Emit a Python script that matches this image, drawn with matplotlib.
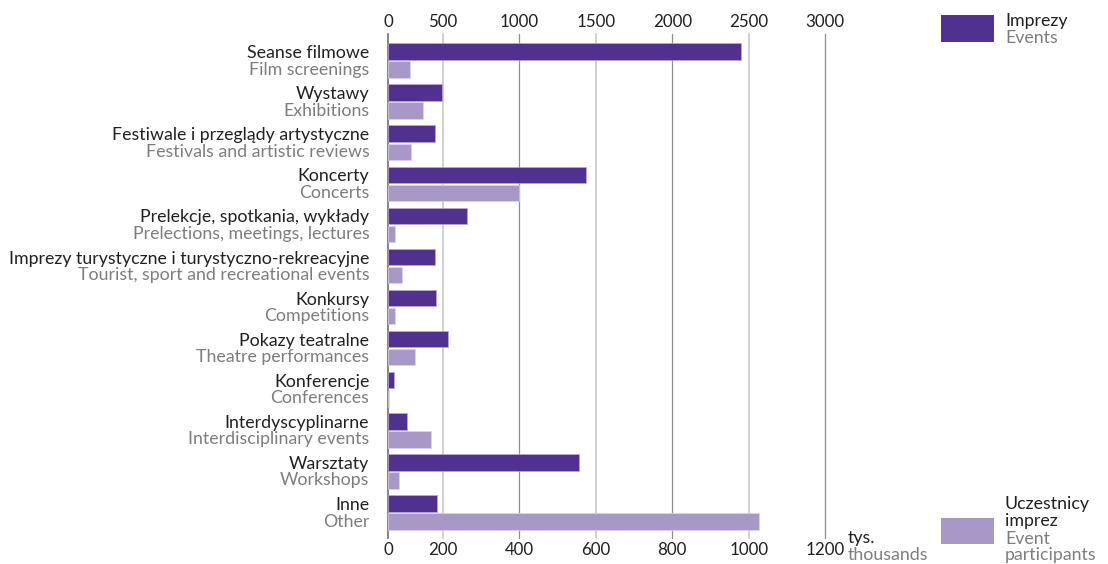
import numpy as np
import matplotlib
matplotlib.use("Agg")
import matplotlib.pyplot as plt
from matplotlib.patches import Rectangle
import matplotlib.transforms as mtransforms

plt.rcParams['font.family'] = ['Lato', 'DejaVu Sans']

# ---- data ----
categories_pl = ["Seanse filmowe", "Wystawy", "Festiwale i przeglądy artystyczne", "Koncerty",
                 "Prelekcje, spotkania, wykłady", "Imprezy turystyczne i turystyczno-rekreacyjne",
                 "Konkursy", "Pokazy teatralne", "Konferencje", "Interdyscyplinarne",
                 "Warsztaty", "Inne"]
categories_en = ["Film screenings", "Exhibitions", "Festivals and artistic reviews", "Concerts",
                 "Prelections, meetings, lectures", "Tourist, sport and recreational events",
                 "Competitions", "Theatre performances", "Conferences", "Interdisciplinary events",
                 "Workshops", "Other"]
events = [2450, 490, 432, 1435, 660, 432, 435, 537, 50, 169, 1390, 450]
participants = [81, 129, 82, 400, 26, 50, 26, 98, 2, 158, 38, 1028]  # thousands
events_ticks = [0, 500, 1000, 1500, 2000, 2500, 3000]
participants_ticks = [0, 200, 400, 600, 800, 1000, 1200]

C_EV = '#51318f'
C_PA = '#a898c8'
C_TXT = '#231f20'
C_GRAY = '#7d7d7d'
FS = 12.8
FS_TICK = 12.2

# axis with a compressed first interval (as in the original chart)
def make_scale(brk, unit):
    a = 54.4 / brk
    b = 0.153 * unit
    def fwd(v):
        v = np.asarray(v, dtype=float)
        return np.where(v <= brk, v * a, 54.4 + (v - brk) * b)
    def inv(u):
        u = np.asarray(u, dtype=float)
        return np.where(u <= 54.4, u / a, brk + (u - 54.4) / b)
    return fwd, inv

fig = plt.figure(figsize=(11.08, 5.64), dpi=100)
ax = fig.add_axes([388.3 / 1108, 1 - 538 / 564, (825.3 - 388.3) / 1108, (538 - 34) / 564])
ax2 = ax.twiny()

ax.set_xscale('function', functions=make_scale(500, 1.0))
ax2.set_xscale('function', functions=make_scale(200, 2.5))
ax.set_xlim(0, 3000)
ax2.set_xlim(0, 1200)

y = np.arange(len(categories_pl))
off = 0.22
h = 0.40
ax.barh(y - off, events, height=h, color=C_EV, edgecolor='#b7a9d6', linewidth=0.5, zorder=3)
ax2.barh(y + off, participants, height=h, color=C_PA, edgecolor='#ddd5ee', linewidth=0.5, zorder=3)
ax.set_ylim(11.62, -0.645)
ax2.set_ylim(11.62, -0.645)

# grid lines
for i, t in enumerate(events_ticks):
    if i == 0:
        col, lw = '#6e6e6e', 1.2
    elif i % 2 == 1:
        col, lw = '#c4c4c4', 1.1
    else:
        col, lw = '#8e8e8e', 0.9
    ax.axvline(t, color=col, lw=lw, zorder=1, clip_on=False)

for a in (ax, ax2):
    for s in a.spines.values():
        s.set_visible(False)
    a.set_yticks([])
    a.patch.set_visible(False)

ax.set_xticks(events_ticks)
ax.set_xticklabels([str(t) for t in events_ticks])
ax.xaxis.tick_top()
ax.tick_params(axis='x', length=0, pad=3, labelsize=FS_TICK, labelcolor=C_TXT)
ax2.set_xticks(participants_ticks)
ax2.set_xticklabels([str(t) for t in participants_ticks])
ax2.xaxis.tick_bottom()
ax2.tick_params(axis='x', length=0, pad=3, labelsize=FS_TICK, labelcolor=C_TXT)
ax2.tick_params(axis='x', top=False, labeltop=False)

# category labels
trans = mtransforms.blended_transform_factory(ax.transAxes, ax.transData)
xlab = -19 / 437
for i in range(len(categories_pl)):
    ax.text(xlab, i - off + 0.04, categories_pl[i], transform=trans, ha='right', va='center',
            fontsize=FS, color=C_TXT)
    ax.text(xlab, i + off, categories_en[i], transform=trans, ha='right', va='center',
            fontsize=FS, color=C_GRAY)

# units
W, H = 1108, 564
fig.text(848 / W, 1 - 538 / H, "tys.", fontsize=FS, color=C_TXT, ha='left', va='center')
fig.text(848 / W, 1 - 555 / H, "thousands", fontsize=FS, color=C_GRAY, ha='left', va='center')

# legend
fig.patches.append(Rectangle((941 / W, 1 - 42 / H), 53 / W, 27 / H, transform=fig.transFigure,
                             facecolor=C_EV, edgecolor='none'))
fig.text(1005 / W, 1 - 21 / H, "Imprezy", fontsize=FS, color=C_TXT, va='center')
fig.text(1005 / W, 1 - 38 / H, "Events", fontsize=FS, color=C_GRAY, va='center')

fig.patches.append(Rectangle((941 / W, 1 - 544 / H), 53 / W, 26 / H, transform=fig.transFigure,
                             facecolor=C_PA, edgecolor='none'))
fig.text(1005 / W, 1 - 504 / H, "Uczestnicy", fontsize=FS, color=C_TXT, va='center')
fig.text(1005 / W, 1 - 521 / H, "imprez", fontsize=FS, color=C_TXT, va='center')
fig.text(1005 / W, 1 - 539 / H, "Event", fontsize=FS, color=C_GRAY, va='center')
fig.text(1005 / W, 1 - 555 / H, "participants", fontsize=FS, color=C_GRAY, va='center')

fig.savefig("out.png", dpi=100)
